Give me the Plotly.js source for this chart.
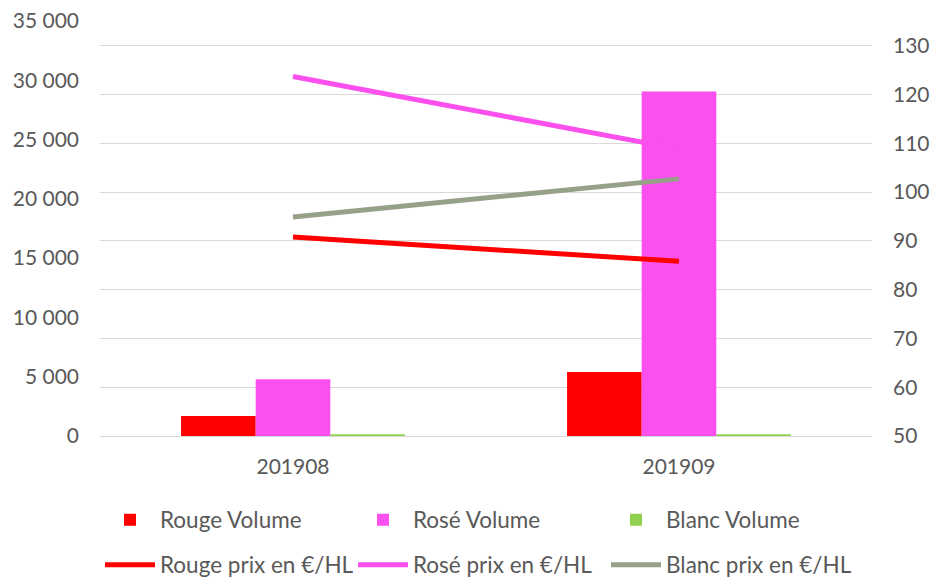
<!DOCTYPE html>
<html>
<head>
<meta charset="utf-8">
<script src="https://cdn.plot.ly/plotly-3.0.1.min.js"></script>
<style>html,body{margin:0;padding:0;background:#fff;}#chart{width:932px;height:577px;}</style>
</head>
<body>
<div id="chart"></div>
<script>
const periods = ["201908", "201909"];
const rougeVolume = [1690, 5400];
const roseVolume = [4780, 29060];
const blancVolume = [150, 150];
const rougePrix = [90.8, 85.8];
const rosePrix = [123.7, 108.8];
const blancPrix = [94.9, 102.7];

const cRouge = "#FF0000", cRose = "#FB50EE", cBlancBar = "#92D050", cBlancLine = "#97A089";
const font = {family: "Lato, 'Open Sans', sans-serif", size: 21, color: "#595959"};
const legendFont = {family: "Lato, 'Open Sans', sans-serif", size: 22.5, color: "#595959"};

const traces = [
  {type: "bar", name: "Rouge Volume", x: periods, y: rougeVolume, marker: {color: cRouge}, legend: "legend"},
  {type: "bar", name: "Rosé Volume", x: periods, y: roseVolume, marker: {color: cRose}, legend: "legend"},
  {type: "bar", name: "Blanc Volume", x: periods, y: blancVolume, marker: {color: cBlancBar}, legend: "legend"},
  {type: "scatter", mode: "lines", name: "Rouge prix en €/HL", x: periods, y: rougePrix, yaxis: "y2", line: {color: cRouge, width: 5}, legend: "legend2"},
  {type: "scatter", mode: "lines", name: "Rosé prix en €/HL", x: periods, y: rosePrix, yaxis: "y2", line: {color: cRose, width: 5}, legend: "legend2"},
  {type: "scatter", mode: "lines", name: "Blanc prix en €/HL", x: periods, y: blancPrix, yaxis: "y2", line: {color: cBlancLine, width: 5}, legend: "legend2"}
];

const legendBase = {
  orientation: "h", x: 0, xanchor: "left", yanchor: "middle", yref: "container",
  entrywidth: 188, entrywidthmode: "pixels", itemwidth: 50,
  font: legendFont, bgcolor: "rgba(0,0,0,0)", traceorder: "normal"
};

const layout = {
  width: 932, height: 577,
  margin: {l: 100, r: 60, t: 21, b: 141},
  paper_bgcolor: "#fff", plot_bgcolor: "#fff",
  font: font,
  separators: ", ",
  barmode: "group", bargap: 0.42, bargroupgap: 0,
  showlegend: true,
  xaxis: {type: "category", showgrid: false, showline: true, linecolor: "#D9D9D9", linewidth: 1, ticks: "", tickfont: font, ticklabelstandoff: 12},
  yaxis: {range: [0, 35000], dtick: 5000, tickformat: ",", showgrid: false, zeroline: false, ticks: "", tickfont: font, ticklabelstandoff: 20},
  yaxis2: {overlaying: "y", side: "right", range: [50, 135.06], tickvals: [50,60,70,80,90,100,110,120,130], showgrid: true, gridcolor: "#D9D9D9", gridwidth: 1, zeroline: false, ticks: "", tickfont: font, ticklabelstandoff: 20},
  legend: Object.assign({}, legendBase, {y: 1 - 520/577}),
  legend2: Object.assign({}, legendBase, {y: 1 - 565/577})
};

Plotly.newPlot("chart", traces, layout, {displayModeBar: false, staticPlot: true});
</script>
</body>
</html>
